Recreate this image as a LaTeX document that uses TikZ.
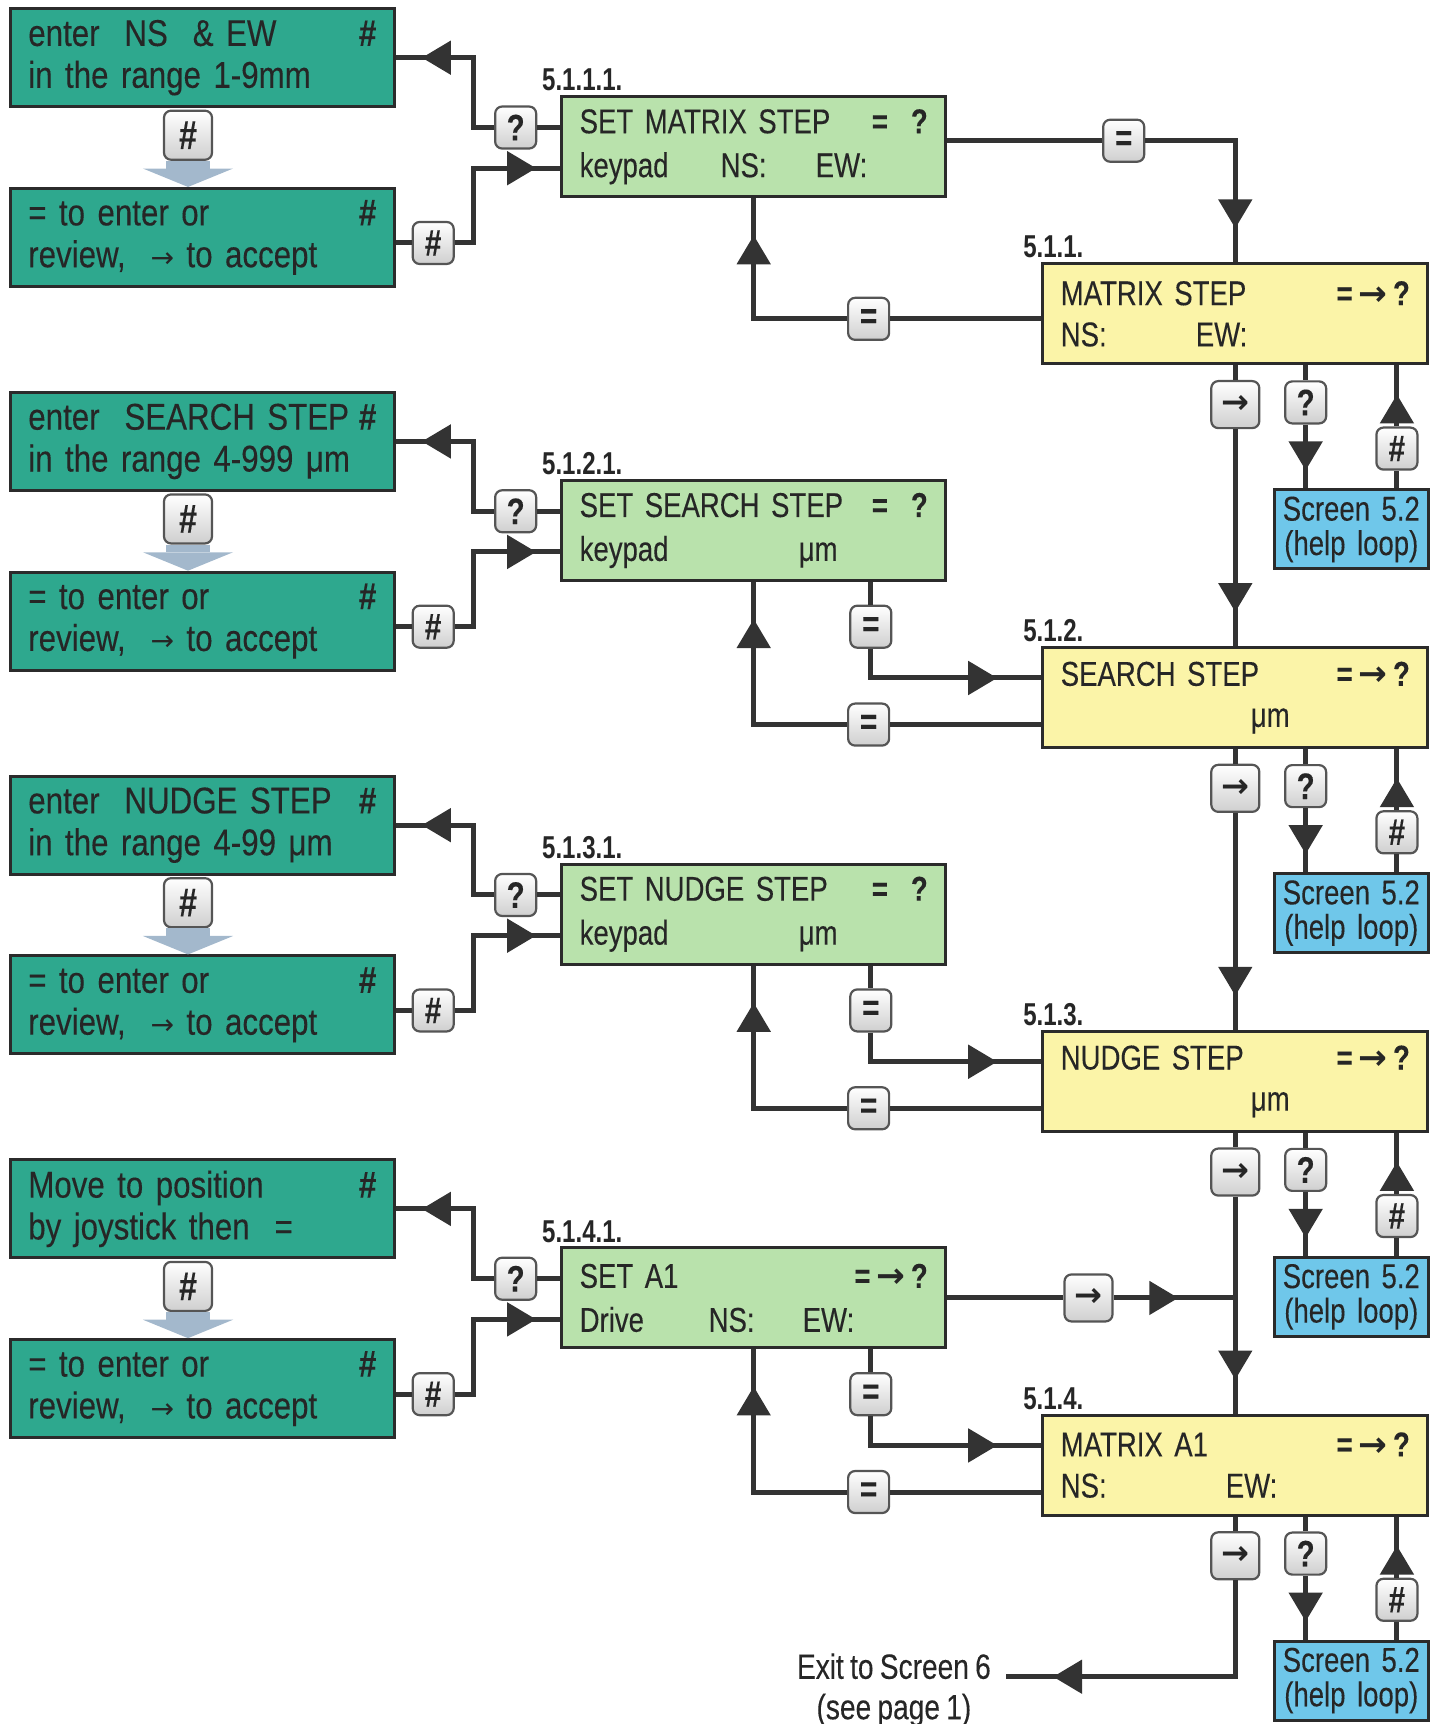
\documentclass[tikz,border=0pt]{standalone}
\usepackage{fontspec}
\setmainfont{Liberation Sans}[FakeStretch=0.80, FakeBold=0.2, WordSpace=0.8]
\newfontfamily\tealfont{Liberation Sans}[FakeStretch=0.84, FakeBold=0.2, WordSpace=0.8]
\newfontfamily\tagfont{Liberation Sans}[FakeStretch=0.76]
\newfontfamily\arrowfont{DejaVu Sans}
\newcommand{\keyarrow}{{\arrowfont\bfseries →}}
\newcommand{\thinarrow}{{\arrowfont\fontsize{8}{8}\selectfont →}}
\usetikzlibrary{arrows.meta,positioning,calc,decorations.markings}

\definecolor{tealbg}{HTML}{2EA88E}
\definecolor{greenbg}{HTML}{B9E2AC}
\definecolor{yellowbg}{HTML}{FBF4A8}
\definecolor{bluebg}{HTML}{6FC7EA}
\definecolor{ink}{HTML}{262626}
\definecolor{edge}{HTML}{2B2B2B}
\definecolor{wirecol}{HTML}{333333}
\definecolor{keyedge}{HTML}{555555}
\definecolor{keygray}{HTML}{CFCFCF}
\definecolor{arrowblue}{HTML}{A3B8CC}

\begin{document}
\begin{tikzpicture}[x=0.10992mm, y=-0.10992mm,
  panel/.style={draw=edge, line width=0.3mm, inner xsep=1.8mm, inner ysep=0pt, align=left, text=ink},
  tealbox/.style={panel, fill=tealbg, text width=34.8mm, minimum height=9.8mm, font=\tealfont\fontsize{10.6}{11.9}\selectfont},
  lcdset/.style={panel, fill=greenbg, text width=34.8mm, minimum height=10mm, font=\fontsize{9.8}{12.5}\selectfont},
  lcdshow/.style={panel, fill=yellowbg, text width=34.9mm, minimum height=10mm, font=\fontsize{9.8}{11.7}\selectfont},
  helpbox/.style={panel, fill=bluebg, inner xsep=0pt, text width=15.4mm, align=center, minimum height=7.9mm, font=\fontsize{9.8}{9.8}\selectfont},
  key/.style={draw=keyedge, line width=0.22mm, rounded corners=0.7mm, top color=white, bottom color=keygray,
    minimum width=4.1mm, minimum height=4.2mm, inner sep=0pt, text=ink, font=\bfseries\fontsize{10.5}{10}\selectfont},
  widekey/.style={minimum width=4.8mm, minimum height=4.7mm, font=\fontsize{9.5}{10}\selectfont},
  bigkey/.style={minimum width=4.8mm, minimum height=4.9mm, font=\bfseries\fontsize{11.5}{11}\selectfont},
  tag/.style={anchor=base west, inner sep=0pt, text=ink, font=\tagfont\bfseries\fontsize{9}{9}\selectfont},
  exittext/.style={align=center, text=ink, font=\fontsize{10}{11.5}\selectfont},
  wire/.style={draw=wirecol, line width=0.5mm},
  tipat/.style={postaction={decorate, decoration={markings,
    mark=at position -#1 with {\arrow{Triangle[length=2.9mm,width=3.3mm]}}}}}]
\useasboundingbox (0,0) rectangle (1311,1568);

% parts that repeat in every row, 349 units apart
\foreach \r in {1,...,4} {
  \pgfmathsetmacro{\dy}{349*(\r-1)}
  \node[tealbox] (tb\r) at (184,216+\dy) {= to enter or\hfill\textbf{\#}\\review,\ \ \thinarrow\ to accept};
  \node[key, bigkey] (kt\r) at (171,123+\dy) {\#};
  \node[key] (kb\r) at (394,221+\dy) {\#};
  \node[key] (kq\r) at (469,116+\dy) {?};
  \coordinate (bend\r) at (431,\dy);
  \node[key, widekey] (kfwd\r) at (1123.5,368+\dy) {\keyarrow};
  \node[key] (khelp\r) at (1187.5,366+\dy) {?};
  \node[key] (kback\r) at (1270.5,408+\dy) {\#};
  \node[helpbox] (h\r) at (1229,481.5+\dy) {Screen 5.2\\(help loop)};
}

% 5.1.1 matrix step
\node[tealbox] (ta1) at (184,52.5) {enter\ \ NS\ \ \&\ EW\hfill\textbf{\#}\\in the range 1-9mm};
\node[lcdset] (g1) at (685.5,133.5) {SET MATRIX STEP\hfill\textbf{=\ \ ?}\\\makebox[14.1mm][l]{keypad}\makebox[9.5mm][l]{NS:}EW:};
\node[lcdshow] (y1) at (1123.5,285.5) {MATRIX STEP\hfill\textbf{=\,\keyarrow\,?}\\\makebox[13.5mm][l]{NS:}EW:};
\node[key] (keq1) at (1022,128) {=};
\node[key] (kret1) at (790,290) {=};

% 5.1.2 search step
\node[tealbox] (ta2) at (184,401.5) {enter\ \ SEARCH STEP\hfill\textbf{\#}\\in the range 4-999 μm};
\node[lcdset] (g2) at (685.5,482.5) {SET SEARCH STEP\hfill\textbf{=\ \ ?}\\\makebox[21.9mm][l]{keypad}μm};
\node[lcdshow] (y2) at (1123.5,634.5) {SEARCH STEP\hfill\textbf{=\,\keyarrow\,?}\\\hspace*{19mm}μm};
\node[key] (keq2) at (792,570) {=};
\node[key] (kret2) at (790,659) {=};

% 5.1.3 nudge step
\node[tealbox] (ta3) at (184,750.5) {enter\ \ NUDGE STEP\hfill\textbf{\#}\\in the range 4-99 μm};
\node[lcdset] (g3) at (685.5,831.5) {SET NUDGE STEP\hfill\textbf{=\ \ ?}\\\makebox[21.9mm][l]{keypad}μm};
\node[lcdshow] (y3) at (1123.5,983.5) {NUDGE STEP\hfill\textbf{=\,\keyarrow\,?}\\\hspace*{19mm}μm};
\node[key] (keq3) at (792,919) {=};
\node[key] (kret3) at (790,1008) {=};

% 5.1.4 matrix A1
\node[tealbox] (ta4) at (184,1099.5) {Move to position\hfill\textbf{\#}\\by joystick then\ \ =};
\node[lcdset] (g4) at (685.5,1180.5) {SET A1\hfill\textbf{=\,\keyarrow\,?}\\\makebox[12.9mm][l]{Drive}\makebox[9.4mm][l]{NS:}EW:};
\node[lcdshow] (y4) at (1123.5,1332.5) {MATRIX A1\hfill\textbf{=\,\keyarrow\,?}\\\makebox[16.5mm][l]{NS:}EW:};
\node[key] (keq4) at (792,1268) {=};
\node[key] (kret4) at (790,1357) {=};
\node[key, widekey] (kside) at (990,1180.5) {\keyarrow};

\node[exittext] (exit) at (813,1537) {Exit to Screen 6\\(see page 1)};
\coordinate (exitend) at (915,1525);

% screen numbers
\foreach \r/\n in {1/1,2/2,3/3,4/4} {
  \node[tag] (tg\r) at ($(g\r.north west)+(-17,-4)$) {5.1.\n.1.};
  \node[tag] (ty\r) at ($(y\r.north west)+(-17,-4)$) {5.1.\n.};
}

% connectors
\foreach \r in {1,...,4} {
  \fill[arrowblue] ($(kt\r.south west)+(3,0)$) rectangle ($(kt\r.south east)+(-3,7)$);
  \fill[arrowblue] ($(kt\r.south)+(-41,7)$) -- ($(kt\r.south)+(41,7)$) -- (kt\r.south |- tb\r.north) -- cycle;
  \draw[wire] (tb\r.east |- kb\r) -- (kb\r.west);
  \draw[wire, tipat=2.4mm] (kb\r.east) -- (kb\r.east -| bend\r) |- ($(g\r.west)+(0,19.5)$);
  \draw[wire] (g\r.west |- kq\r) -- (kq\r.east);
  \draw[wire, tipat=2.6mm] (kq\r.west) -- (kq\r.west -| bend\r) |- (ta\r.east);
  \draw[wire] (y\r.west |- kret\r) -- (kret\r.east);
  \draw[wire, tipat=3.7mm] (kret\r.west) -| (g\r.south);
  \draw[wire] (y\r.south -| khelp\r) -- (khelp\r.north);
  \draw[wire, tipat=1.8mm] (khelp\r.south) -- (h\r.north -| khelp\r);
  \draw[wire] (h\r.north -| kback\r) -- (kback\r.south);
  \draw[wire, tipat=2.9mm] (kback\r.north) -- (y\r.south -| kback\r);
  \draw[wire] (y\r.south) -- (kfwd\r.north);
}
\draw[wire] (g1.east |- keq1) -- (keq1.west);
\draw[wire, tipat=3.4mm] (keq1.east) -| (y1.north);
\foreach \r in {2,3,4} {
  \draw[wire] (g\r.south -| keq\r) -- (keq\r.north);
  \draw[wire, tipat=4.4mm] (keq\r.south) |- ($(y\r.north west)+(0,29)$);
}
\foreach \r/\n in {1/2,2/3,3/4}
  \draw[wire, tipat=3.4mm] (kfwd\r.south) -- (y\n.north);
\draw[wire] (g4.east) -- (kside.west);
\draw[wire, tipat=5.7mm] (kside.east) -- (kside.east -| y4.north);
\draw[wire, tipat=4.7mm] (kfwd4.south) |- (exitend);
\end{tikzpicture}
\end{document}
